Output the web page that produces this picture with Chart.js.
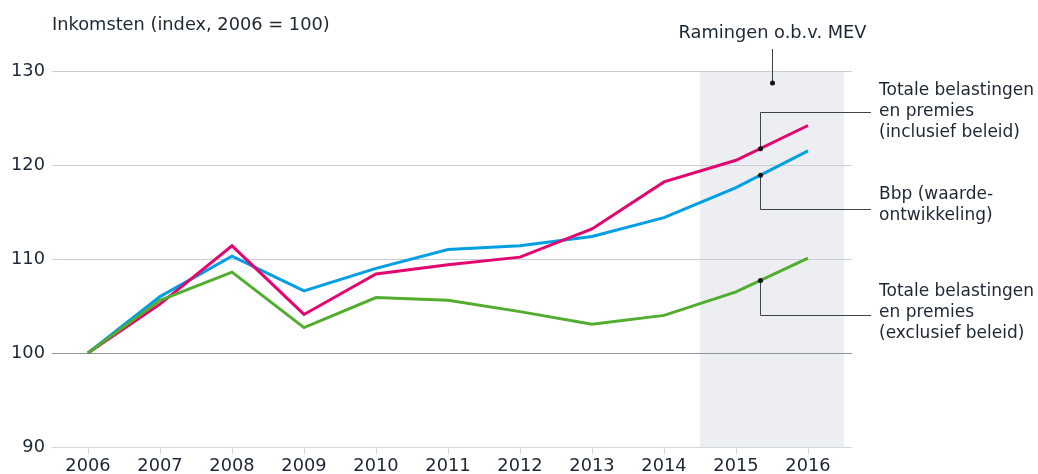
<!DOCTYPE html>
<html><head><meta charset="utf-8">
<script src="https://cdn.jsdelivr.net/npm/chart.js@4/dist/chart.umd.min.js"></script>
<style>html,body{margin:0;padding:0;background:#fff}#wrap{position:relative;width:1038px;height:474px}</style>
</head><body><div id="wrap"><canvas id="c" width="1038" height="474"></canvas></div>
<script>
const years = ['2006','2007','2008','2009','2010','2011','2012','2013','2014','2015','2016'];
const totaalInclusief = [100,105.2,111.4,104.1,108.4,109.4,110.2,113.2,118.2,120.5,124.2];
const bbp = [100,106.0,110.3,106.6,109.0,111.0,111.4,112.4,114.4,117.6,121.5];
const totaalExclusief = [100,105.6,108.6,102.7,105.9,105.6,104.4,103.05,104.0,106.5,110.1];
const yTicks = [90,100,110,120,130];
const ramingVan = 8.5, ramingTot = 10.5; // category index range for "Ramingen"
const titel = 'Inkomsten (index, 2006 = 100)';
const ramingLabel = 'Ramingen o.b.v. MEV';
const labelInclusief = ['Totale belastingen','en premies','(inclusief beleid)'];
const labelBbp = ['Bbp (waarde-','ontwikkeling)'];
const labelExclusief = ['Totale belastingen','en premies','(exclusief beleid)'];

const FONT = '"DejaVu Sans", Verdana, sans-serif';
const FS = 17.8;
const FS_LABEL = 17;
const TXT = '#1d2733';
const RED = '#e2066e', BLUE = '#009fe3', GREEN = '#52ad2f';

function interp(arr, idx){ const i = Math.floor(idx); const f = idx - i; return arr[i] + (arr[i+1]-arr[i])*f; }

const annotations = [
  {data: totaalInclusief, at: 9 + 1/3, elbowY: 112, lines: labelInclusief, textY: [91,112,133]},
  {data: bbp, at: 9 + 1/3, elbowY: 209, lines: labelBbp, textY: [195,216]},
  {data: totaalExclusief, at: 9 + 1/3, elbowY: 315, lines: labelExclusief, textY: [292,313,334]}
];

const deco = {
  id: 'deco',
  beforeDatasetsDraw(chart){
    const {ctx, chartArea:a, scales:{x, y}} = chart;
    ctx.save();
    const x0 = x.getPixelForValue(ramingVan), x1 = x.getPixelForValue(ramingTot);
    ctx.fillStyle = '#eceef2';
    ctx.fillRect(x0, y.getPixelForValue(130), x1 - x0, y.getPixelForValue(90) - y.getPixelForValue(130));
    yTicks.forEach(v => {
      const py = Math.round(y.getPixelForValue(v)) + 0.5;
      ctx.strokeStyle = v === 100 ? '#8e979f' : (v === 90 ? '#d0d8e0' : '#c9cfd7');
      ctx.lineWidth = 1;
      ctx.beginPath(); ctx.moveTo(a.left, py); ctx.lineTo(a.right + 8, py); ctx.stroke();
    });
    ctx.restore();
  },
  afterDatasetsDraw(chart){
    const {ctx, chartArea:a, scales:{x, y}} = chart;
    ctx.save();
    ctx.font = FS + 'px ' + FONT;
    ctx.fillStyle = TXT;
    ctx.textBaseline = 'middle';
    ctx.textAlign = 'left';
    ctx.fillText(titel, 52, 25);
    // Ramingen label
    const mx = Math.round((x.getPixelForValue(ramingVan) + x.getPixelForValue(ramingTot)) / 2) + 0.5;
    ctx.textAlign = 'center';
    ctx.fillText(ramingLabel, mx, 33);
    ctx.strokeStyle = '#3c444c'; ctx.lineWidth = 1;
    ctx.beginPath(); ctx.moveTo(mx, 49); ctx.lineTo(mx, 83); ctx.stroke();
    ctx.fillStyle = '#111';
    ctx.beginPath(); ctx.arc(mx, 83, 2.5, 0, Math.PI*2); ctx.fill();
    // series labels
    ctx.font = FS_LABEL + 'px ' + FONT;
    const textX = a.right + 35;
    annotations.forEach(an => {
      const px = Math.round(x.getPixelForValue(an.at)) + 0.5;
      const py = y.getPixelForValue(interp(an.data, an.at));
      ctx.strokeStyle = '#3c444c'; ctx.lineWidth = 1;
      ctx.beginPath(); ctx.moveTo(px, py); ctx.lineTo(px, an.elbowY + 0.5); ctx.lineTo(a.right + 27, an.elbowY + 0.5); ctx.stroke();
      ctx.fillStyle = '#111';
      ctx.beginPath(); ctx.arc(px, py, 2.5, 0, Math.PI*2); ctx.fill();
      ctx.fillStyle = TXT; ctx.textAlign = 'left';
      an.lines.forEach((t, i) => ctx.fillText(t, textX, an.textY[i]));
    });
    ctx.restore();
  }
};

new Chart(document.getElementById('c'), {
  type: 'line',
  data: {
    labels: years,
    datasets: [
      {label: 'Totale belastingen en premies (exclusief beleid)', data: totaalExclusief, borderColor: GREEN},
      {label: 'Totale belastingen en premies (inclusief beleid)', data: totaalInclusief, borderColor: RED},
      {label: 'Bbp (waardeontwikkeling)', data: bbp, borderColor: BLUE}
    ]
  },
  options: {
    responsive: false,
    devicePixelRatio: 1,
    animation: false,
    layout: {padding: {top: 71, right: 194, left: 0, bottom: 0}},
    elements: {line: {borderWidth: 3, tension: 0, borderCapStyle: 'butt', borderJoinStyle: 'miter'}, point: {radius: 0, hoverRadius: 0}},
    plugins: {legend: {display: false}, tooltip: {enabled: false}},
    scales: {
      x: {
        type: 'category', offset: true,
        grid: {display: true, drawOnChartArea: false, drawTicks: true, tickLength: 7, color: '#d3dae0', offset: false},
        border: {display: false},
        ticks: {font: {family: FONT, size: FS}, color: TXT, padding: 2, maxRotation: 0, autoSkip: false},
        afterFit(s){ s.height = 27; }
      },
      y: {
        min: 90, max: 130,
        grid: {display: false, drawTicks: false},
        border: {display: false},
        ticks: {stepSize: 10, font: {family: FONT, size: FS}, color: TXT, padding: 7},
        afterFit(s){ s.width = 52; }
      }
    }
  },
  plugins: [deco]
});
</script></body></html>
